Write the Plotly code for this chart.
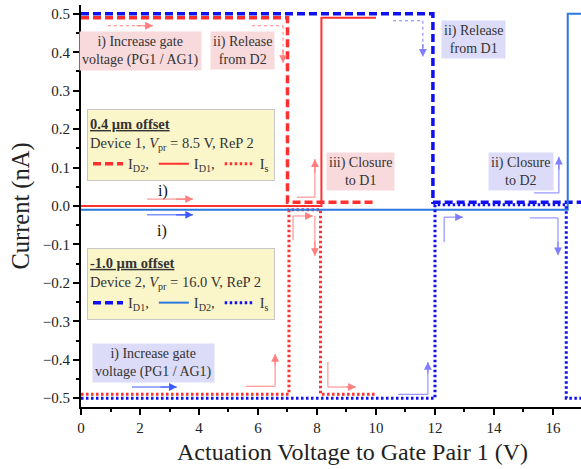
import plotly.graph_objects as go

# ---------------- data ----------------
# Device 1 (0.4 um offset) - red
d1_id2_x = [0, 7.0, 7.0, 10.0]
d1_id2_y = [0.49, 0.49, 0.01, 0.01]
d1_id1_x = [0, 8.15, 8.15, 10.0]
d1_id1_y = [0.0, 0.0, 0.49, 0.49]
d1_is_x = [0, 7.05, 7.05, 8.12, 8.12, 10.0]
d1_is_y = [-0.49, -0.49, -0.01, -0.01, -0.49, -0.49]

# Device 2 (-1.0 um offset) - blue
d2_id1_x = [0, 11.93, 11.93, 17.0]
d2_id1_y = [0.50, 0.50, 0.01, 0.01]
d2_id2_x = [0, 16.5, 16.5, 17.0]
d2_id2_y = [-0.01, -0.01, 0.50, 0.50]
d2_is_x = [0, 12.0, 12.0, 16.45, 16.45, 17.0]
d2_is_y = [-0.50, -0.50, 0.003, 0.003, -0.50, -0.50]

FONT = "Liberation Serif"
RED = "#FF3030"
RED_L = "#FF7F7F"
BLUE = "#1010F0"
BLUE_S = "#2A78E0"
BLUE_L = "#7F7FFF"
BLUE_A = "#3A5BFF"
PINK_BG = "#F9DADC"
BLUE_BG = "#DCDCF8"

fig = go.Figure()

# red traces -> legend 1
fig.add_trace(go.Scatter(x=d1_id2_x, y=d1_id2_y, mode="lines", name="I<sub>D2</sub>,",
                         line=dict(color=RED, width=3.5, dash="8px,4px"), legend="legend"))
fig.add_trace(go.Scatter(x=d1_id1_x, y=d1_id1_y, mode="lines", name="I<sub>D1</sub>,",
                         line=dict(color=RED, width=2), legend="legend"))
fig.add_trace(go.Scatter(x=d1_is_x, y=d1_is_y, mode="lines", name="I<sub>s</sub>",
                         line=dict(color=RED, width=3, dash="2.5px,2.5px"), legend="legend"))
# blue traces -> legend 2
fig.add_trace(go.Scatter(x=d2_id1_x, y=d2_id1_y, mode="lines", name="I<sub>D1</sub>,",
                         line=dict(color=BLUE, width=3.5, dash="8px,4px"), legend="legend2"))
fig.add_trace(go.Scatter(x=d2_id2_x, y=d2_id2_y, mode="lines", name="I<sub>D2</sub>,",
                         line=dict(color=BLUE_S, width=2), legend="legend2"))
fig.add_trace(go.Scatter(x=d2_is_x, y=d2_is_y, mode="lines", name="I<sub>s</sub>",
                         line=dict(color=BLUE, width=3, dash="2.5px,2.5px"), legend="legend2"))

annotations = []
shapes = []


def text_box(x, y, text, bg):
    annotations.append(dict(x=x, y=y, xref="x", yref="y", text=text, showarrow=False,
                            bgcolor=bg, borderpad=2, font=dict(family=FONT, size=14, color="#333"),
                            align="center"))


text_box(2.0, 0.404, "i) Increase gate<br>voltage (PG1 / AG1)", PINK_BG)
text_box(5.49, 0.404, "ii) Release<br>from D2", PINK_BG)
text_box(9.46, 0.089, "iii) Closure<br>to D1", PINK_BG)
text_box(13.29, 0.432, "ii) Release<br>from D1", BLUE_BG)
text_box(14.92, 0.089, "ii) Closure<br>to D2", BLUE_BG)
text_box(2.47, -0.409, "i) Increase gate<br>voltage (PG1 / AG1)", BLUE_BG)

annotations.append(dict(x=2.77, y=0.038, xref="x", yref="y", text="i)", showarrow=False,
                        font=dict(family=FONT, size=16, color="#111")))
annotations.append(dict(x=2.74, y=-0.064, xref="x", yref="y", text="i)", showarrow=False,
                        font=dict(family=FONT, size=16, color="#111")))

# x-axis title (the original plot extends past the cropped right edge, so it sits right of centre)
annotations.append(dict(x=0.542, y=-0.112, xref="paper", yref="paper", xanchor="center",
                        yanchor="middle", showarrow=False, text="Actuation Voltage to Gate Pair 1 (V)",
                        font=dict(family=FONT, size=24, color="#222")))


def arrow(path, color, dash="solid", width=1):
    # path: list of (x, y); straight segments then arrowhead at the final point
    for (xa, ya), (xb, yb) in zip(path[:-1], path[1:]):
        shapes.append(dict(type="line", x0=xa, y0=ya, x1=xb, y1=yb, xref="x", yref="y",
                           line=dict(color=color, width=width, dash=dash)))
    (xa, ya), (xb, yb) = path[-2], path[-1]
    annotations.append(dict(x=xb, y=yb, ax=xa + (xb - xa) * 0.6, ay=ya + (yb - ya) * 0.6,
                            xref="x", yref="y", axref="x", ayref="y", text="", showarrow=True,
                            arrowhead=2, arrowsize=1.3, arrowwidth=1.2, arrowcolor=color))


arrow([(0.915, 0.469), (2.44, 0.469)], RED_L, "dot")
arrow([(5.80, 0.469), (6.85, 0.469), (6.85, 0.372)], RED_L, "dot")
arrow([(2.24, 0.018), (3.80, 0.018)], RED_L)
arrow([(2.24, -0.023), (3.80, -0.023)], BLUE_A)
arrow([(10.58, 0.482), (11.59, 0.482), (11.59, 0.388)], BLUE_L, "dot")
arrow([(7.32, 0.023), (7.93, 0.023), (7.93, 0.122)], RED_L)
arrow([(7.19, -0.089), (7.19, -0.026), (7.86, -0.026)], RED_L)
arrow([(7.93, -0.026), (7.93, -0.130)], RED_L)
arrow([(12.31, -0.094), (12.31, -0.029), (12.95, -0.029)], BLUE_L)
arrow([(15.22, -0.031), (16.17, -0.031), (16.17, -0.128)], BLUE_L)
arrow([(15.36, 0.034), (16.20, 0.034), (16.20, 0.128)], BLUE_L)
arrow([(5.59, -0.469), (6.58, -0.469), (6.58, -0.385)], RED_L)
arrow([(8.37, -0.406), (8.37, -0.471), (9.32, -0.471)], RED_L)
arrow([(10.75, -0.490), (11.76, -0.490), (11.76, -0.406)], BLUE_L)
arrow([(1.73, -0.471), (3.25, -0.471)], BLUE_A)

legend_common = dict(xanchor="left", yanchor="top", orientation="h",
                     bgcolor="#FBF6C9", bordercolor="#C8C8C8", borderwidth=1,
                     font=dict(family=FONT, size=14.5, color="#333"), itemwidth=30,
                     tracegroupgap=0)

fig.update_layout(
    width=581, height=469,
    margin=dict(l=81, r=0, t=5, b=62),
    paper_bgcolor="white", plot_bgcolor="white",
    font=dict(family=FONT, color="#222"),
    showlegend=True,
    legend=dict(x=0.012, y=0.741,
                title=dict(text="<b><u>0.4 µm offset</u></b><br>Device 1, <i>V</i><sub>pr</sub> = 8.5 V, ReP 2",
                           side="top", font=dict(family=FONT, size=14.5, color="#333")),
                **legend_common),
    legend2=dict(x=0.012, y=0.3955,
                 title=dict(text="<b><u>-1.0 µm offset</u></b><br>Device 2, <i>V</i><sub>pr</sub> = 16.0 V, ReP 2",
                            side="top", font=dict(family=FONT, size=14.5, color="#333")),
                 **legend_common),
    xaxis=dict(range=[0, 16.95], showgrid=False, zeroline=False, showline=True,
               linecolor="black", linewidth=2, ticks="outside", ticklen=6, tickwidth=1.5,
               tickcolor="black", dtick=2, tick0=0,
               minor=dict(ticks="outside", ticklen=3, dtick=1, tickcolor="black", tickwidth=1.5),
               tickfont=dict(family=FONT, size=15, color="#222")),
    yaxis=dict(range=[-0.523, 0.523], showgrid=False, zeroline=False, showline=True,
               linecolor="black", linewidth=2, ticks="outside", ticklen=6, tickwidth=1.5,
               tickcolor="black", dtick=0.1, tick0=0, tickformat=".1f",
               minor=dict(ticks="outside", ticklen=3, dtick=0.05, tickcolor="black", tickwidth=1.5),
               tickfont=dict(family=FONT, size=15, color="#222"),
               title=dict(text="Current (nA)", font=dict(family=FONT, size=24.5, color="#222"),
                          standoff=6)),
    annotations=annotations,
    shapes=shapes,
)

fig.write_html("out.html", config={"displayModeBar": False},
               post_script="document.body.style.margin='0';")
